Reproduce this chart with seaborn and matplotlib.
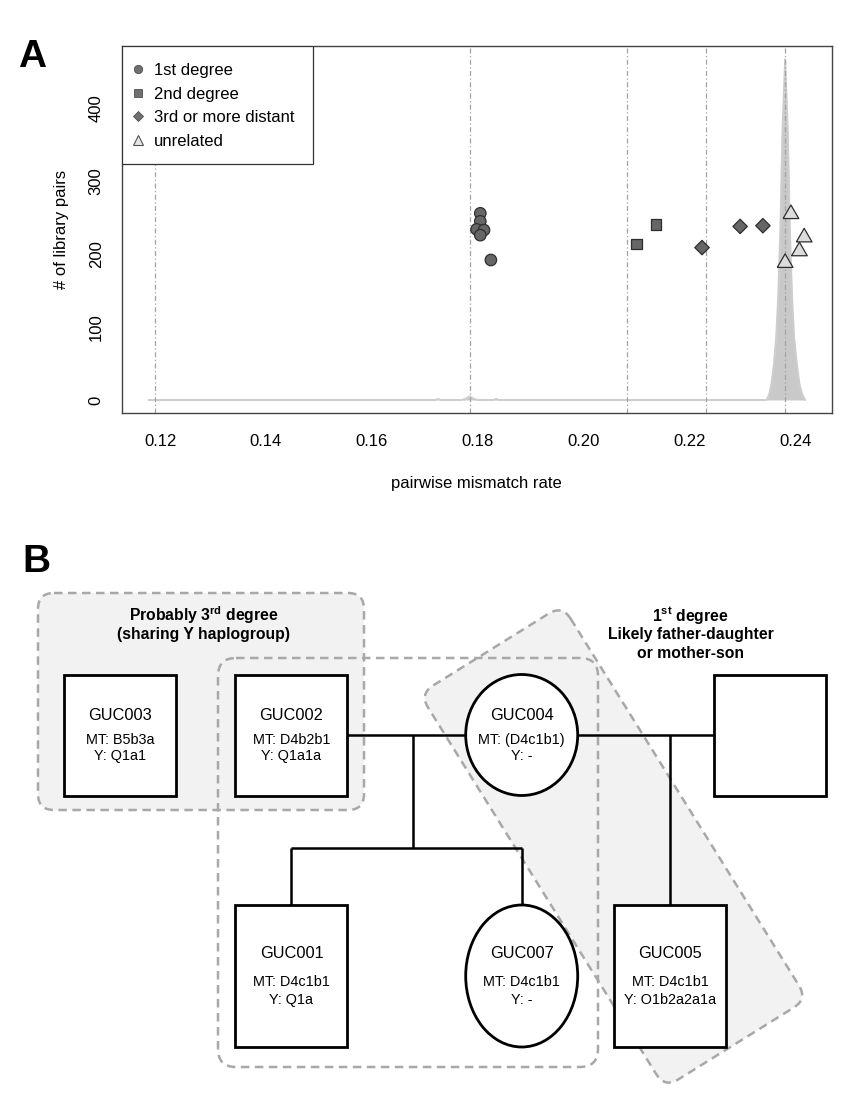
import matplotlib
matplotlib.use("Agg")
import matplotlib.pyplot as plt
import numpy as np
import pandas as pd
import seaborn as sns
from matplotlib.patches import FancyBboxPatch, Rectangle, Ellipse
from matplotlib.lines import Line2D
from matplotlib.transforms import Affine2D

# ---- panel A data ----
first_x = [0.1805, 0.1805, 0.1798, 0.1812, 0.1805, 0.1825]
first_y = [256, 245, 234, 233, 226, 192]
second_x = [0.2100, 0.2137]
second_y = [214, 241]
third_x = [0.2224, 0.2296, 0.2339]
third_y = [209, 238, 239]
unrel_x = [0.2392, 0.2417, 0.2408, 0.2381]
unrel_y = [255, 223, 204, 188]

# expected mismatch for identical / 1st / 2nd / 3rd degree / unrelated
threshold_x = [0.1190, 0.1786, 0.2083, 0.2232, 0.2381]

# distribution of mismatch rates for all library pairs
dens_x = [0.1178, 0.1720, 0.1725, 0.1730, 0.1770, 0.1778, 0.1785, 0.1792, 0.1800,
          0.1830, 0.1835, 0.1840, 0.2346, 0.2351, 0.2355, 0.2360, 0.2364, 0.2368,
          0.2372, 0.2376, 0.2381, 0.2386, 0.2390, 0.2394, 0.2398, 0.2403, 0.2408,
          0.2413, 0.2419]
dens_y = [0, 0, 1.5, 0, 0, 2, 5, 2, 0,
          0, 1.5, 0, 0, 8, 22, 50, 85, 142,
          233, 370, 467, 370, 233, 142, 85, 50, 22,
          8, 0]

categories = ['1st degree', '2nd degree', '3rd or more distant', 'unrelated']
x_ticks = [0.12, 0.14, 0.16, 0.18, 0.20, 0.22, 0.24]
y_ticks = [0, 100, 200, 300, 400]

# ---- panel B data ----
node_names = ['GUC003', 'GUC002', 'GUC004', '', 'GUC001', 'GUC007', 'GUC005']
node_mt = ['B5b3a', 'D4b2b1', '(D4c1b1)', None, 'D4c1b1', 'D4c1b1', 'D4c1b1']
node_y = ['Q1a1', 'Q1a1a', '-', None, 'Q1a', '-', 'O1b2a2a1a']
node_sex = ['M', 'M', 'F', 'M', 'M', 'F', 'M']

# layout of the pedigree (pixel coordinates)
node_cx = [120, 291.5, 521.7, 769.7, 291.5, 521.7, 670]
node_cy = [735, 735, 735, 735, 976, 976, 976]
node_h = [121, 121, 121, 121, 142, 142, 142]
NW = 112

sns.set_style("white")
plt.rcParams['font.family'] = ['Liberation Sans', 'DejaVu Sans']
plt.rcParams['mathtext.fontset'] = 'custom'
plt.rcParams['mathtext.rm'] = 'Liberation Sans'
plt.rcParams['mathtext.bf'] = 'Liberation Sans:bold'
plt.rcParams['text.color'] = 'black'
plt.rcParams['axes.labelcolor'] = 'black'
plt.rcParams['xtick.color'] = 'black'
plt.rcParams['ytick.color'] = 'black'

W, H = 850, 1115
fig = plt.figure(figsize=(W / 100, H / 100), dpi=100)

# ================= panel A =================
ax = fig.add_axes([122 / W, 1 - 412.7 / H, 709.7 / W, 366.7 / H])

ax.fill_between(dens_x, dens_y, color='#c9c9c9', lw=0, zorder=1)
ax.plot(dens_x, dens_y, color='#cdcdcd', lw=1.4, zorder=1)

for tx in threshold_x:
    ax.axvline(tx, color='#a3a3a3', lw=0.9, ls=(0, (4, 2, 1, 2)), zorder=2)

tri = [(-1, -0.577), (1, -0.577), (0, 1.155), (-1, -0.577)]
df = pd.DataFrame({
    'rate': first_x + second_x + third_x + unrel_x,
    'pairs': first_y + second_y + third_y + unrel_y,
    'degree': ([categories[0]] * len(first_x) + [categories[1]] * len(second_x)
               + [categories[2]] * len(third_x) + [categories[3]] * len(unrel_x)),
})
markers = dict(zip(categories, ['o', 's', 'D', tri]))
sizes = dict(zip(categories, [68, 60, 54, 170]))
palette = dict(zip(categories, ['#666666', '#666666', '#666666', '#dcdcdc']))
sns.scatterplot(data=df, x='rate', y='pairs', hue='degree', style='degree', size='degree',
                markers=markers, sizes=sizes, palette=palette, edgecolor='#2e2e2e',
                linewidth=0.9, legend=False, ax=ax, zorder=3)

ax.set_xlim(0.1128, 0.2469)
ax.set_ylim(-17.4, 485.4)
ax.set_xticks(x_ticks)
ax.set_xticklabels(['%.2f' % v for v in x_ticks])
ax.set_yticks(y_ticks)
ax.set_yticklabels([str(v) for v in y_ticks], rotation=90, va='center')
ax.tick_params(direction='out', length=7.2, width=0.8, colors='#444444',
               labelcolor='black', labelsize=12)
ax.tick_params(axis='x', pad=8)
ax.tick_params(axis='y', pad=6)
for sp in ax.spines.values():
    sp.set_color('#444444')
    sp.set_linewidth(1.0)

ax.set_xlabel('pairwise mismatch rate', fontsize=12, va='center')
ax.xaxis.set_label_coords(0.5, -(483 - 412.7) / 366.7)
ax.set_ylabel('# of library pairs', fontsize=12, va='center')
ax.yaxis.set_label_coords(-(122 - 62) / 709.7, 0.5)

# legend: R-style box in the top left corner
ax.add_patch(Rectangle((0, 1 - 118 / 366.7), 191 / 709.7, 118 / 366.7, transform=ax.transAxes,
                       fc='white', ec='#333333', lw=0.9, zorder=4))
handles = [
    Line2D([], [], ls='', marker='o', ms=6, mfc='#707070', mec='#505050', mew=0.6),
    Line2D([], [], ls='', marker='s', ms=6, mfc='#707070', mec='#505050', mew=0.6),
    Line2D([], [], ls='', marker='D', ms=5.5, mfc='#707070', mec='#505050', mew=0.6),
    Line2D([], [], ls='', marker='^', ms=7, mfc='#e6e6e6', mec='#555555', mew=0.8),
]
leg = ax.legend(handles, categories, loc='upper left',
                bbox_to_anchor=((131.3 - 122) / 709.7, 1 - (63.3 - 46) / 366.7),
                borderaxespad=0, frameon=False, fontsize=12, handlelength=0.8,
                handletextpad=0.56, borderpad=0, labelspacing=0.51)
leg.set_zorder(5)

fig.text(18 / W, 1 - 66.7 / H, 'A', fontsize=28, fontweight='bold', ha='left', va='baseline')

# ================= panel B =================
axb = fig.add_axes([0, 0, 1, 575 / H])
axb.set_xlim(0, W)
axb.set_ylim(H, 540)
axb.axis('off')

dash = (0, (3.4, 2.2))
group_fill = '#f2f2f2'
group_edge = '#a8a8a8'

def group_box(x, y, w, h, r, fill, transform=None):
    kw = {} if transform is None else {'transform': transform}
    face = FancyBboxPatch((x, y), w, h, boxstyle='round,pad=0,rounding_size=%g' % r,
                          fc=fill, ec='none', zorder=1, **kw)
    edge = FancyBboxPatch((x, y), w, h, boxstyle='round,pad=0,rounding_size=%g' % r,
                          fc='none', ec=group_edge, lw=1.8, ls=dash, zorder=2, **kw)
    axb.add_patch(face)
    axb.add_patch(edge)

# 3rd degree group
group_box(38, 593, 326, 217, 16, group_fill)
# 1st degree group (tilted)
rot = Affine2D().rotate_deg(58.1).translate(613.5, 846.5) + axb.transData
group_box(-232, -84, 464, 168, 16, group_fill, transform=rot)
# family group
group_box(218, 658, 380, 409, 18, 'none')

# pedigree lines
line_kw = dict(color='black', lw=1.8, zorder=3, solid_capstyle='butt')
half = NW / 2
axb.plot([node_cx[1] + half, node_cx[2] - half], [node_cy[1]] * 2, **line_kw)
axb.plot([node_cx[2] + half, node_cx[3] - half], [node_cy[2]] * 2, **line_kw)
drop1, kids_y = 413, 847.5
axb.plot([drop1, drop1], [node_cy[1], kids_y], **line_kw)
axb.plot([node_cx[4], node_cx[5]], [kids_y, kids_y], **line_kw)
axb.plot([node_cx[4], node_cx[4]], [kids_y, node_cy[4] - node_h[4] / 2], **line_kw)
axb.plot([node_cx[5], node_cx[5]], [kids_y, node_cy[5] - node_h[5] / 2], **line_kw)
axb.plot([node_cx[6], node_cx[6]], [node_cy[2], node_cy[6] - node_h[6] / 2], **line_kw)

for name, mt, yh, sex, cx, cy, nh in zip(node_names, node_mt, node_y, node_sex,
                                         node_cx, node_cy, node_h):
    if sex == 'M':
        shape = Rectangle((cx - NW / 2, cy - nh / 2), NW, nh, fc='white', ec='black',
                          lw=2.0, zorder=4)
    else:
        shape = Ellipse((cx, cy), NW, nh, fc='white', ec='black', lw=2.0, zorder=4)
    axb.add_patch(shape)
    if name:
        stretch = nh / 121
        axb.text(cx, cy - 19.5 * stretch, name, fontsize=11.8, ha='center', va='center', zorder=5)
        axb.text(cx, cy + 5 * stretch, 'MT: ' + mt, fontsize=10.4, ha='center', va='center',
                 zorder=5)
        axb.text(cx, cy + 20.7 * stretch, 'Y: ' + yh, fontsize=10.4, ha='center',
                 va='center', zorder=5)

title_kw = dict(fontsize=11.3, fontweight='bold', ha='center', va='center', zorder=5)
axb.text(204, 615, 'Probably 3$^{\\mathbf{rd}}$ degree', **title_kw)
axb.text(204, 634, '(sharing Y haplogroup)', **title_kw)
axb.text(690.7, 615, '1$^{\\mathbf{st}}$ degree', **title_kw)
axb.text(690.7, 634, 'Likely father-daughter', **title_kw)
axb.text(690.7, 653.3, 'or mother-son', **title_kw)

axb.text(22, 571.7, 'B', fontsize=28, fontweight='bold', ha='left', va='baseline')

fig.savefig('out.png', dpi=100)
